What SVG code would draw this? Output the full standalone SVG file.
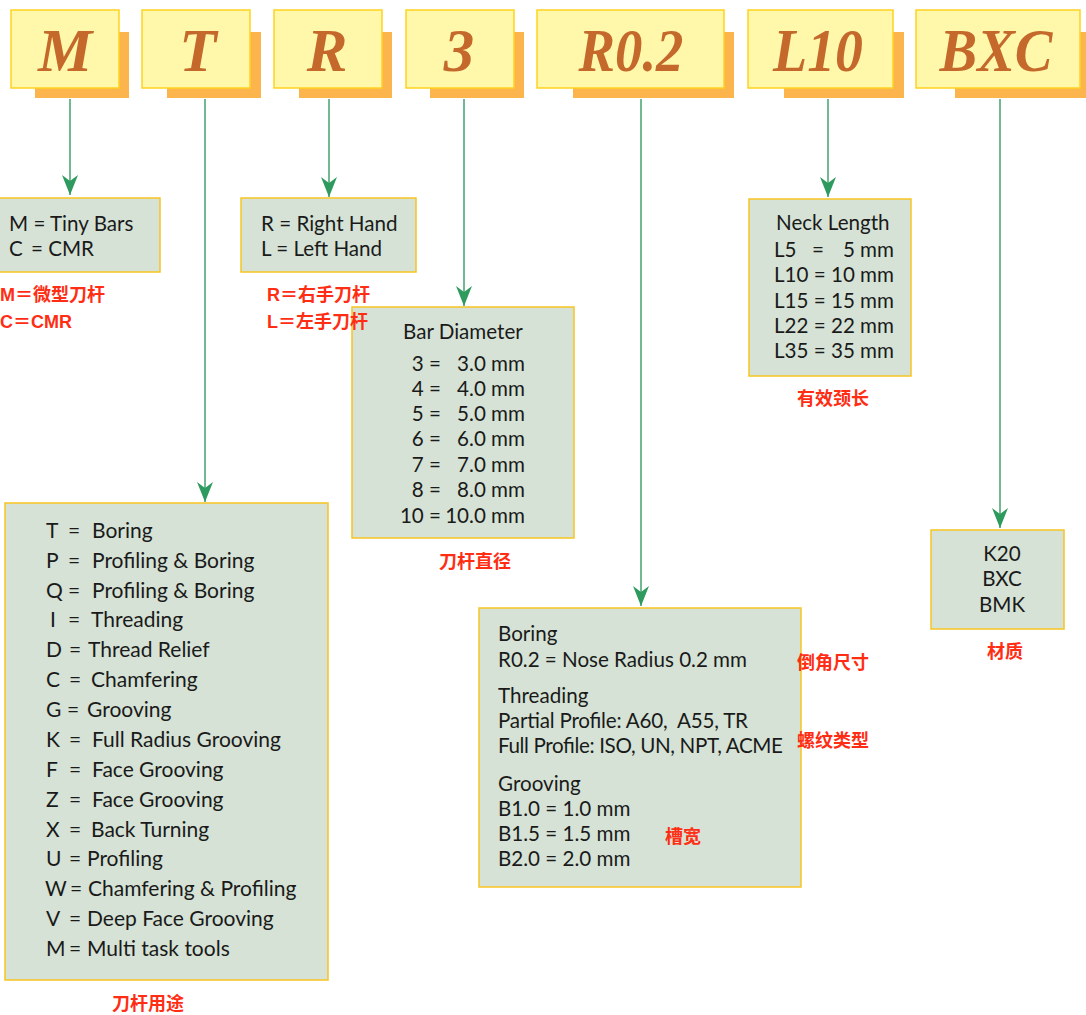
<svg xmlns="http://www.w3.org/2000/svg" width="1086" height="1015" viewBox="0 0 1086 1015">
<defs>
<style>
.hb{fill:#fff8aa;stroke:#ffd21f;stroke-width:1.5}
.sh{fill:#fbb54c}
.hl{font-family:"Liberation Serif",serif;font-weight:bold;font-style:italic;font-size:61px;fill:#c4692b;text-anchor:middle}
.cb{fill:#d5e2d5;stroke:#f7c520;stroke-width:1.5}
.t{font-family:Lato,"Noto Sans",sans-serif;font-size:20.6px;fill:#1a1a1a;white-space:pre}
.tb{font-size:21px}
.e{text-anchor:end}
.m{text-anchor:middle}
.r{font-family:"Liberation Sans","Noto Sans CJK SC",sans-serif;font-weight:bold;font-size:18px;fill:#ff2d14}
.ln{stroke:#4ea877;stroke-width:1.6;fill:none}
</style>
<marker id="ah" viewBox="0 0 20 16" refX="20" refY="8" markerWidth="20" markerHeight="16" markerUnits="userSpaceOnUse" orient="auto">
<path d="M0,0 L6,8 L0,16 L20,8 Z" fill="#2e9a5e"/>
</marker>
</defs>
<rect width="1086" height="1015" fill="#ffffff"/>

<g id="connectors">
<line class="ln" x1="70" y1="99" x2="70" y2="195" marker-end="url(#ah)"/>
<line class="ln" x1="205" y1="99" x2="205" y2="502" marker-end="url(#ah)"/>
<line class="ln" x1="329" y1="99" x2="329" y2="197" marker-end="url(#ah)"/>
<line class="ln" x1="464" y1="99" x2="464" y2="306" marker-end="url(#ah)"/>
<line class="ln" x1="641" y1="99" x2="641" y2="606" marker-end="url(#ah)"/>
<line class="ln" x1="828" y1="99" x2="828" y2="197" marker-end="url(#ah)"/>
<line class="ln" x1="1000" y1="99" x2="1000" y2="528" marker-end="url(#ah)"/>
</g>

<g id="h-M"><rect class="sh" x="35" y="32" width="94" height="66"/><rect class="hb" x="11" y="10" width="108" height="78"/><text class="hl" x="65" y="71">M</text></g>
<g id="h-T"><rect class="sh" x="167" y="32" width="94" height="66"/><rect class="hb" x="142" y="10" width="108" height="78"/><text class="hl" x="198" y="71">T</text></g>
<g id="h-R"><rect class="sh" x="299" y="32" width="93" height="66"/><rect class="hb" x="274" y="10" width="108" height="78"/><text class="hl" x="327" y="71">R</text></g>
<g id="h-3"><rect class="sh" x="430" y="32" width="94" height="66"/><rect class="hb" x="406" y="10" width="108" height="78"/><text class="hl" x="459" y="71">3</text></g>
<g id="h-R02"><rect class="sh" x="573" y="32" width="161" height="66"/><rect class="hb" x="537" y="10" width="187" height="78"/><text class="hl" x="631" y="71" textLength="105" lengthAdjust="spacingAndGlyphs">R0.2</text></g>
<g id="h-L10"><rect class="sh" x="784" y="32" width="120" height="66"/><rect class="hb" x="748" y="10" width="145" height="78"/><text class="hl" x="818" y="71" textLength="90" lengthAdjust="spacingAndGlyphs">L10</text></g>
<g id="h-BXC"><rect class="sh" x="955" y="32" width="140" height="66"/><rect class="hb" x="916" y="10" width="164" height="78"/><text class="hl" x="996" y="71" textLength="113" lengthAdjust="spacingAndGlyphs">BXC</text></g>

<g id="n-M">
<rect class="cb" x="-2" y="198" width="162" height="74"/>
<text class="t" x="9" y="231">M = Tiny Bars</text>
<text class="t" x="9" y="256">C</text><text class="t" x="31" y="256">= CMR</text>
<text class="r" x="0" y="301">M＝微型刀杆</text>
<text class="r" x="0" y="328">C＝CMR</text>
</g>

<g id="n-3">
<rect class="cb" x="352" y="307" width="222" height="231"/>
<text class="t" x="403" y="339">Bar Diameter</text>
<text class="t e" x="441" y="371">3 =</text><text class="t e" x="525" y="371">3.0 mm</text>
<text class="t e" x="441" y="396">4 =</text><text class="t e" x="525" y="396">4.0 mm</text>
<text class="t e" x="441" y="421">5 =</text><text class="t e" x="525" y="421">5.0 mm</text>
<text class="t e" x="441" y="446">6 =</text><text class="t e" x="525" y="446">6.0 mm</text>
<text class="t e" x="441" y="472">7 =</text><text class="t e" x="525" y="472">7.0 mm</text>
<text class="t e" x="441" y="497">8 =</text><text class="t e" x="525" y="497">8.0 mm</text>
<text class="t e" x="441" y="523">10 =</text><text class="t e" x="525" y="523">10.0 mm</text>
<text class="r m" x="475" y="568">刀杆直径</text>
</g>

<g id="n-R">
<rect class="cb" x="241" y="198" width="175" height="74"/>
<text class="t" x="261" y="231">R = Right Hand</text>
<text class="t" x="261" y="256">L = Left Hand</text>
<text class="r" x="267" y="301">R＝右手刀杆</text>
<text class="r" x="267" y="328">L＝左手刀杆</text>
</g>

<g id="n-L10">
<rect class="cb" x="749" y="199" width="162" height="177"/>
<text class="t" x="776" y="230">Neck Length</text>
<text class="t" x="774" y="257">L5</text><text class="t" x="812" y="257">=</text><text class="t e" x="894" y="257">5 mm</text>
<text class="t" x="774" y="282">L10 = 10 mm</text>
<text class="t" x="774" y="308">L15 = 15 mm</text>
<text class="t" x="774" y="333">L22 = 22 mm</text>
<text class="t" x="774" y="358">L35 = 35 mm</text>
<text class="r m" x="833" y="405">有效颈长</text>
</g>

<g id="n-T">
<rect class="cb" x="5" y="503" width="323" height="477"/>
<g class="t tb">
<text x="46" y="538">T</text><text x="68" y="538">=</text><text x="92" y="538">Boring</text>
<text x="46" y="568">P</text><text x="68" y="568">=</text><text x="92" y="568">Profiling &amp; Boring</text>
<text x="46" y="598">Q</text><text x="68" y="598">=</text><text x="92" y="598">Profiling &amp; Boring</text>
<text x="50" y="627">I</text><text x="68" y="627">=</text><text x="91" y="627">Threading</text>
<text x="46" y="657">D</text><text x="69" y="657">=</text><text x="88" y="657">Thread Relief</text>
<text x="46" y="687">C</text><text x="69" y="687">=</text><text x="91" y="687">Chamfering</text>
<text x="46" y="717">G</text><text x="67" y="717">=</text><text x="87" y="717">Grooving</text>
<text x="46" y="747">K</text><text x="69" y="747">=</text><text x="92" y="747">Full Radius Grooving</text>
<text x="46" y="777">F</text><text x="69" y="777">=</text><text x="92" y="777">Face Grooving</text>
<text x="46" y="807">Z</text><text x="69" y="807">=</text><text x="92" y="807">Face Grooving</text>
<text x="46" y="837">X</text><text x="69" y="837">=</text><text x="91" y="837">Back Turning</text>
<text x="46" y="866">U</text><text x="69" y="866">=</text><text x="87" y="866">Profiling</text>
<text x="45" y="896">W</text><text x="70" y="896">=</text><text x="88" y="896">Chamfering &amp; Profiling</text>
<text x="46" y="926">V</text><text x="69" y="926">=</text><text x="87" y="926">Deep Face Grooving</text>
<text x="46" y="956">M</text><text x="69" y="956">=</text><text x="87" y="956">Multi task tools</text>
</g>
<text class="r m" x="148" y="1010">刀杆用途</text>
</g>

<g id="n-R02">
<rect class="cb" x="479" y="608" width="322" height="279"/>
<text class="t" x="498" y="641">Boring</text>
<text class="t" x="498" y="667" textLength="249">R0.2 = Nose Radius 0.2 mm</text>
<text class="t" x="498" y="703">Threading</text>
<text class="t" x="498" y="728" textLength="250">Partial Profile: A60,  A55, TR</text>
<text class="t" x="498" y="753" textLength="285">Full Profile: ISO, UN, NPT, ACME</text>
<text class="t" x="498" y="791">Grooving</text>
<text class="t" x="498" y="816">B1.0 = 1.0 mm</text>
<text class="t" x="498" y="841">B1.5 = 1.5 mm</text>
<text class="t" x="498" y="866">B2.0 = 2.0 mm</text>
<text class="r" x="797" y="669">倒角尺寸</text>
<text class="r" x="797" y="747">螺纹类型</text>
<text class="r" x="665" y="843">槽宽</text>
</g>

<g id="n-BXC">
<rect class="cb" x="931" y="530" width="133" height="99"/>
<text class="t m" x="1002" y="561">K20</text>
<text class="t m" x="1002" y="586">BXC</text>
<text class="t m" x="1002" y="612">BMK</text>
<text class="r m" x="1005" y="658">材质</text>
</g>
</svg>
